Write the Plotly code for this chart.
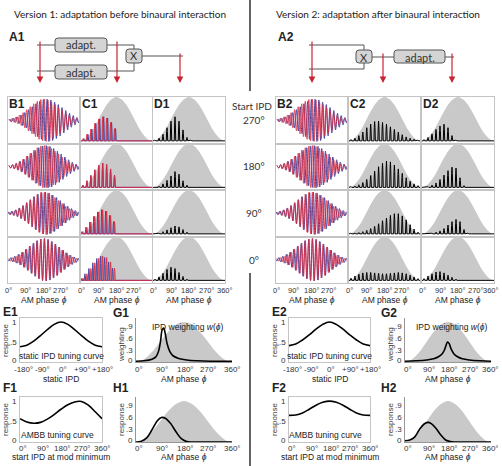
import plotly.graph_objects as go

# ---------------- data ----------------
start_ipd = [270, 180, 90, 0]
row_labels = ["270°", "180°", "90°", "0°"]

phase_grid = [0, 15, 30, 45, 60, 75, 90, 105, 120, 135, 150, 165, 180,
              195, 210, 225, 240, 255, 270, 285, 300, 315, 330, 345, 360]
gray_env = [0.0, 0.02, 0.07, 0.15, 0.25, 0.37, 0.5, 0.63, 0.75, 0.85, 0.93, 0.98, 1.0,
            0.98, 0.93, 0.85, 0.75, 0.63, 0.5, 0.37, 0.25, 0.15, 0.07, 0.02, 0.0]

# stimulus (B panels): carrier cycle centres and peak amplitude of each cycle
b_cycles = [9, 27, 45, 63, 81, 99, 117, 135, 153, 171, 189, 207, 225, 243, 261, 279, 297, 315, 333, 351]
b_amp = [0.06, 0.1, 0.16, 0.25, 0.36, 0.5, 0.64, 0.78, 0.9, 0.98, 1.0, 0.96, 0.86, 0.74, 0.6, 0.46,
         0.33, 0.22, 0.13, 0.07]

# C / D panels: rectified carrier peaks per cycle
cd_cycles = [10, 30, 50, 70, 90, 110, 130, 150, 170, 190, 210, 230, 250, 270, 290, 310, 330, 350]
c1_amp = [0.05, 0.15, 0.27, 0.4, 0.5, 0.55, 0.52, 0.42, 0.28, 0, 0, 0, 0, 0, 0, 0, 0, 0]
d1_rows = [
    [0.02, 0.06, 0.15, 0.3, 0.45, 0.55, 0.45, 0.25, 0.08, 0.02, 0, 0, 0, 0, 0, 0, 0, 0],
    [0.01, 0.03, 0.08, 0.16, 0.26, 0.36, 0.3, 0.15, 0.05, 0.01, 0, 0, 0, 0, 0, 0, 0, 0],
    [0.01, 0.02, 0.05, 0.09, 0.14, 0.18, 0.16, 0.1, 0.04, 0.01, 0, 0, 0, 0, 0, 0, 0, 0],
    [0.03, 0.08, 0.16, 0.25, 0.3, 0.27, 0.18, 0.09, 0.03, 0.01, 0, 0, 0, 0, 0, 0, 0, 0],
]
c2_rows = [
    [0.03, 0.06, 0.12, 0.2, 0.3, 0.38, 0.44, 0.45, 0.42, 0.38, 0.32, 0.26, 0.2, 0.14, 0.09, 0.06, 0.04, 0.02],
    [0.02, 0.03, 0.06, 0.11, 0.18, 0.27, 0.37, 0.47, 0.55, 0.6, 0.58, 0.51, 0.42, 0.32, 0.22, 0.14, 0.08, 0.04],
    [0.02, 0.02, 0.03, 0.05, 0.08, 0.12, 0.17, 0.23, 0.3, 0.36, 0.42, 0.46, 0.46, 0.41, 0.32, 0.21, 0.11, 0.04],
    [0.05, 0.1, 0.14, 0.17, 0.18, 0.18, 0.17, 0.16, 0.15, 0.15, 0.16, 0.17, 0.18, 0.17, 0.15, 0.12, 0.08, 0.04],
]
d2_rows = [
    [0.03, 0.08, 0.16, 0.26, 0.34, 0.38, 0.3, 0.12, 0.02, 0, 0, 0, 0, 0, 0, 0, 0, 0],
    [0.01, 0.02, 0.05, 0.1, 0.18, 0.28, 0.38, 0.46, 0.44, 0.22, 0.04, 0, 0, 0, 0, 0, 0, 0],
    [0.01, 0.01, 0.02, 0.04, 0.07, 0.12, 0.2, 0.28, 0.33, 0.28, 0.1, 0.02, 0, 0, 0, 0, 0, 0],
    [0.04, 0.1, 0.15, 0.19, 0.2, 0.17, 0.12, 0.07, 0.03, 0.01, 0, 0, 0, 0, 0, 0, 0, 0],
]

# E: static IPD tuning curve
e_ipd = [-180, -150, -120, -90, -60, -30, 0, 30, 60, 90, 120, 150, 180]
e_ticks = [-180, -90, 0, 90, 180]
e_ticktext = ["-180°", "-90°", "0°", "+90°", "+180°"]
e1_resp = [0.38, 0.42, 0.52, 0.66, 0.81, 0.94, 1.0, 0.94, 0.81, 0.66, 0.52, 0.42, 0.38]
e2_resp = [0.41, 0.45, 0.55, 0.68, 0.82, 0.94, 1.0, 0.94, 0.82, 0.68, 0.55, 0.45, 0.41]
# F: AMBB tuning curve
f_ipd = [0, 30, 60, 90, 120, 150, 180, 210, 240, 270, 300, 330, 360]
f1_resp = [0.57, 0.49, 0.46, 0.48, 0.56, 0.67, 0.8, 0.91, 0.98, 0.99, 0.9, 0.74, 0.57]
f2_resp = [0.65, 0.66, 0.71, 0.8, 0.9, 0.97, 1.0, 0.97, 0.9, 0.8, 0.71, 0.66, 0.65]
resp_ticks = [0, 0.5, 1]
resp_ticktext = ["0", ".5", "1"]
# G: IPD weighting
g1_phase = [0, 30, 60, 75, 85, 92, 98, 104, 110, 117, 127, 140, 160, 190, 230, 280, 360]
g1_w = [0.02, 0.03, 0.07, 0.13, 0.28, 0.52, 0.8, 0.85, 0.7, 0.45, 0.26, 0.15, 0.09, 0.05, 0.03, 0.02, 0.02]
g2_phase = [0, 45, 90, 120, 140, 155, 165, 172, 178, 185, 192, 205, 220, 240, 270, 315, 360]
g2_w = [0.02, 0.03, 0.05, 0.08, 0.13, 0.2, 0.3, 0.42, 0.5, 0.46, 0.34, 0.2, 0.13, 0.08, 0.05, 0.03, 0.02]
# H: response over AM phase
h_phase = [0, 20, 40, 60, 80, 95, 110, 130, 150, 170, 190, 210, 360]
h1_resp = [0.0, 0.02, 0.1, 0.3, 0.52, 0.6, 0.58, 0.45, 0.25, 0.08, 0.01, 0.0, 0.0]
h2_resp = [0.03, 0.05, 0.12, 0.3, 0.44, 0.48, 0.45, 0.33, 0.17, 0.05, 0.01, 0.0, 0.0]
gh_ticks = [0, 0.3, 0.6, 0.9]
gh_ticktext = ["0", ".3", ".6", ".9"]

phase_ticks = [0, 90, 180, 270, 360]
phase_ticktext = ["0°", "90°", "180°", "270°", "360°"]

# ---------------- styling / helpers ----------------
W, H = 502, 466
RED = "rgb(222,40,62)"
BLUE = "rgb(72,70,160)"
GRAY = "rgb(201,201,201)"
BORDER = "rgb(196,196,196)"
ARIAL = "Liberation Sans"
CAL = "Lato"

fig = go.Figure()
ann, shp = [], []
axn = [0]


def X(px):
    return px / W


def Y(py):
    return 1 - py / H


def new_axes(x0, x1, y0, y1, xr, yr, xa=None, ya=None):
    axn[0] += 1
    n = axn[0]
    sx = "" if n == 1 else str(n)
    base = dict(showgrid=False, zeroline=False, showticklabels=False, ticks="", fixedrange=True, tickangle=0)
    xd = dict(base, domain=[X(x0), X(x1)], range=xr, anchor="y" + sx)
    yd = dict(base, domain=[Y(y1), Y(y0)], range=yr, anchor="x" + sx)
    if xa:
        xd.update(xa)
    if ya:
        yd.update(ya)
    fig.update_layout(**{"xaxis" + sx: xd, "yaxis" + sx: yd})
    return "x" + sx, "y" + sx


def txt(x, y, s, size=9, bold=False, family=ARIAL, color="#222", xanchor="center", angle=0):
    if bold:
        s = "<b>" + s + "</b>"
    ann.append(dict(x=X(x), y=Y(y), xref="paper", yref="paper", text=s, showarrow=False,
                    font=dict(size=size, family=family, color=color), xanchor=xanchor,
                    yanchor="middle", textangle=angle, borderpad=0))


def xticks_ann(x0, x1, xr, tv, tt, ypx, size=8):
    for t, s in zip(tv, tt):
        px = x0 + (t - xr[0]) / (xr[1] - xr[0]) * (x1 - x0)
        half = 0.55 * size * len(s) / 2
        if px + half > W - 3:
            txt(W - 2, ypx, s, size=size, color="#333", xanchor="right")
        else:
            txt(px, ypx, s, size=size, color="#333")


def yticks_ann(xpx, y0, y1, yr, tv, tt, size=8):
    for t, s in zip(tv, tt):
        py = y1 - (t - yr[0]) / (yr[1] - yr[0]) * (y1 - y0)
        if t == yr[0]:
            py -= 2
        txt(xpx, py, s, size=size, color="#333", xanchor="right")


def line(x0, y0, x1, y1, color="#555", width=1):
    shp.append(dict(type="line", xref="paper", yref="paper", x0=X(x0), y0=Y(y0), x1=X(x1), y1=Y(y1),
                    line=dict(color=color, width=width)))


def rbox(x0, y0, x1, y1, r=3):
    rx, ry = r / W, r / H
    a, b, c, d = X(x0), Y(y0), X(x1), Y(y1)
    p = (f"M{a+rx},{b} L{c-rx},{b} Q{c},{b} {c},{b-ry} L{c},{d+ry} Q{c},{d} {c-rx},{d} "
         f"L{a+rx},{d} Q{a},{d} {a},{d+ry} L{a},{b-ry} Q{a},{b} {a+rx},{b} Z")
    shp.append(dict(type="path", xref="paper", yref="paper", path=p, fillcolor="rgb(212,212,212)",
                    line=dict(color="#555", width=1)))


def red_arrow(x, y0, y1):
    ann.append(dict(x=X(x), y=Y(y1), xref="paper", yref="paper", ax=0, ay=-(y1 - y0), text="",
                    showarrow=True, arrowhead=2, arrowsize=1.1, arrowwidth=1.2, arrowcolor="rgb(200,35,50)"))


def spikes(centers, heights, shift=0.0, half=3.6):
    xs, ys = [0], [0]
    for c, h in zip(centers, heights):
        c = c + shift
        xs += [c - half, c - half / 2, c, c + half / 2, c + half]
        ys += [0, 0.7 * h, h, 0.7 * h, 0]
    xs.append(360)
    ys.append(0)
    return xs, ys


def zigzag(centers, amps, shifts, period):
    xs, ys = [], []
    for c, a, s in zip(centers, amps, shifts):
        xs += [c - period / 4 + s, c + period / 4 + s]
        ys += [a, -a]
    return xs, ys


# ---------------- B / C / D panels ----------------
ROW_TOP, ROW_H = 97, 46.5
cols = {1: [(8, 79), (81, 152), (153, 225)], 2: [(276, 347), (349, 420), (422, 494)]}


def panel_axes(x0, x1, y0, y1, yr):
    frame = dict(showline=True, mirror=True, linecolor=BORDER, linewidth=1)
    return new_axes(x0, x1, y0, y1, [0, 360], yr, xa=dict(frame), ya=dict(frame))


for v in (1, 2):
    (bx0, bx1), (cx0, cx1), (dx0, dx1) = cols[v]
    for r in range(4):
        y0 = ROW_TOP + r * ROW_H
        y1 = y0 + ROW_H
        ipd = start_ipd[r]
        # B: stimulus
        xa_, ya_ = panel_axes(bx0, bx1, y0, y1, [-1.1, 1.1])
        per = 18
        sh_red = [0] * len(b_cycles)
        sh_blue = [(ipd + c) / 360 * per - per / 2 for c in b_cycles]
        bx, by = zigzag(b_cycles, b_amp, sh_blue, per)
        fig.add_trace(go.Scatter(x=bx, y=by, mode="lines", line=dict(color=BLUE, width=1.0, shape="spline"),
                                 xaxis=xa_, yaxis=ya_, hoverinfo="skip", showlegend=False))
        rx, ry = zigzag(b_cycles, b_amp, sh_red, per)
        fig.add_trace(go.Scatter(x=rx, y=ry, mode="lines", line=dict(color=RED, width=1.0, shape="spline"),
                                 opacity=0.85, xaxis=xa_, yaxis=ya_, hoverinfo="skip", showlegend=False))
        # C
        xa_, ya_ = panel_axes(cx0, cx1, y0, y1, [-0.06, 1.0])
        fig.add_trace(go.Scatter(x=phase_grid, y=gray_env, mode="lines", fill="tozeroy", fillcolor=GRAY,
                                 line=dict(width=0, color=GRAY, shape="spline"), xaxis=xa_, yaxis=ya_,
                                 hoverinfo="skip", showlegend=False))
        if v == 1:
            sx, sy = spikes(cd_cycles, c1_amp, shift=(ipd / 360) * 20 - 10)
            fig.add_trace(go.Scatter(x=sx, y=sy, mode="lines", line=dict(color=BLUE, width=1.0),
                                     xaxis=xa_, yaxis=ya_, hoverinfo="skip", showlegend=False))
            sx, sy = spikes(cd_cycles, c1_amp)
            fig.add_trace(go.Scatter(x=sx, y=sy, mode="lines", line=dict(color=RED, width=1.0),
                                     opacity=0.9, xaxis=xa_, yaxis=ya_, hoverinfo="skip", showlegend=False))
        else:
            sx, sy = spikes(cd_cycles, c2_rows[r])
            fig.add_trace(go.Scatter(x=sx, y=sy, mode="lines", line=dict(color="black", width=1.0),
                                     xaxis=xa_, yaxis=ya_, hoverinfo="skip", showlegend=False))
        # D
        xa_, ya_ = panel_axes(dx0, dx1, y0, y1, [-0.06, 1.0])
        fig.add_trace(go.Scatter(x=phase_grid, y=gray_env, mode="lines", fill="tozeroy", fillcolor=GRAY,
                                 line=dict(width=0, color=GRAY, shape="spline"), xaxis=xa_, yaxis=ya_,
                                 hoverinfo="skip", showlegend=False))
        dvals = d1_rows[r] if v == 1 else d2_rows[r]
        sx, sy = spikes(cd_cycles, dvals)
        fig.add_trace(go.Scatter(x=sx, y=sy, mode="lines", line=dict(color="black", width=1.0),
                                 xaxis=xa_, yaxis=ya_, hoverinfo="skip", showlegend=False))
    # panel letters
    txt(bx0 + 9, 104, f"B{v}", size=12, bold=True)
    txt(cx0 + 9, 104, f"C{v}", size=12, bold=True)
    txt(dx0 + 9, 104, f"D{v}", size=12, bold=True)
    for i, (a, b) in enumerate(cols[v]):
        n = 5 if i == 2 else 4
        xticks_ann(a, b, [0, 360], phase_ticks[:n], phase_ticktext[:n], 290, size=7.5)
        txt((a + b) / 2, 300, "AM phase <i>ϕ</i>", size=8.5)

# ---------------- E / F / G / H ----------------


def small_axes(x0, x1, y0, y1, xr, yr, box):
    fr = dict(showline=True, linecolor=BORDER if box else "rgb(150,150,150)", linewidth=1, mirror=box)
    return new_axes(x0, x1, y0, y1, xr, yr, xa=dict(fr), ya=dict(fr))


specs = {
    1: dict(ex=(20, 102), gx=(136, 232), e=e1_resp, f=f1_resp, g=(g1_phase, g1_w), h=h1_resp),
    2: dict(ex=(289, 370), gx=(405, 491), e=e2_resp, f=f2_resp, g=(g2_phase, g2_w), h=h2_resp),
}
YR = [0, 1.1]
for v in (1, 2):
    s = specs[v]
    ex0, ex1 = s["ex"]
    gx0, gx1 = s["gx"]
    # E
    xa_, ya_ = small_axes(ex0, ex1, 318, 362, [-180, 180], YR, True)
    fig.add_trace(go.Scatter(x=e_ipd, y=s["e"], mode="lines", line=dict(color="black", width=1.6, shape="spline"),
                             xaxis=xa_, yaxis=ya_, hoverinfo="skip", showlegend=False))
    xticks_ann(ex0 + 3, ex1, [-180, 180], e_ticks, e_ticktext, 369)
    yticks_ann(ex0 - 2, 318, 362, YR, resp_ticks, resp_ticktext)
    # F
    xa_, ya_ = small_axes(ex0, ex1, 397, 442, [0, 360], YR, True)
    fig.add_trace(go.Scatter(x=f_ipd, y=s["f"], mode="lines", line=dict(color="black", width=1.6, shape="spline"),
                             xaxis=xa_, yaxis=ya_, hoverinfo="skip", showlegend=False))
    xticks_ann(ex0 + 3, ex1, [0, 360], phase_ticks, phase_ticktext, 448)
    yticks_ann(ex0 - 2, 397, 442, YR, resp_ticks, resp_ticktext)
    # G
    xa_, ya_ = small_axes(gx0, gx1, 318, 362, [0, 360], YR, False)
    fig.add_trace(go.Scatter(x=phase_grid, y=gray_env, mode="lines", fill="tozeroy", fillcolor=GRAY,
                             line=dict(width=0, color=GRAY, shape="spline"), xaxis=xa_, yaxis=ya_,
                             hoverinfo="skip", showlegend=False))
    fig.add_trace(go.Scatter(x=s["g"][0], y=s["g"][1], mode="lines",
                             line=dict(color="black", width=1.6, shape="spline"),
                             xaxis=xa_, yaxis=ya_, hoverinfo="skip", showlegend=False))
    xticks_ann(gx0 + 3, gx1, [0, 360], phase_ticks, phase_ticktext, 369)
    yticks_ann(gx0 - 2, 318, 362, YR, gh_ticks, gh_ticktext)
    # H
    xa_, ya_ = small_axes(gx0, gx1, 397, 442, [0, 360], YR, False)
    fig.add_trace(go.Scatter(x=phase_grid, y=gray_env, mode="lines", fill="tozeroy", fillcolor=GRAY,
                             line=dict(width=0, color=GRAY, shape="spline"), xaxis=xa_, yaxis=ya_,
                             hoverinfo="skip", showlegend=False))
    fig.add_trace(go.Scatter(x=h_phase, y=s["h"], mode="lines", line=dict(color="black", width=1.6, shape="spline"),
                             xaxis=xa_, yaxis=ya_, hoverinfo="skip", showlegend=False))
    xticks_ann(gx0 + 3, gx1, [0, 360], phase_ticks, phase_ticktext, 448)
    yticks_ann(gx0 - 2, 397, 442, YR, gh_ticks, gh_ticktext)

    ec = (ex0 + ex1) / 2
    gc = (gx0 + gx1) / 2
    lx = 10 if v == 1 else 279
    glx = 121 if v == 1 else 389
    txt(lx, 312, f"E{v}", size=12, bold=True)
    txt(lx, 388, f"F{v}", size=12, bold=True)
    txt(glx, 313, f"G{v}", size=12, bold=True)
    txt(glx, 388, f"H{v}", size=12, bold=True)
    txt(ex0 - 15, 341, "response", size=8, angle=-90, color="#444")
    txt(ex0 - 15, 420, "response", size=8, angle=-90, color="#444")
    txt(gx0 - 15, 345, "weighting", size=8, angle=-90, color="#444")
    txt(gx0 - 15, 420, "response", size=8, angle=-90, color="#444")
    txt(ec, 356, "static IPD tuning curve", size=8.5)
    txt(ec - 4, 435, "AMBB tuning curve", size=8.5)
    txt(gc + 4, 327, "IPD weighting <i>w</i>(<i>ϕ</i>)", size=8.5)
    txt(ec, 379, "static IPD", size=8.5)
    txt(ec, 457, "start IPD at mod minimum", size=8.5)
    txt(gc, 379, "AM phase <i>ϕ</i>", size=8.5)
    txt(gc, 457, "AM phase <i>ϕ</i>", size=8.5)

# ---------------- titles, start IPD labels, divider ----------------
txt(120, 14, "Version 1: adaptation before binaural interaction", size=10, family=CAL)
txt(378, 14, "Version 2: adaptation after binaural interaction", size=10, family=CAL)
txt(252, 106, "Start IPD", size=10, family=CAL, color="#333")
for r, lab in enumerate(row_labels):
    txt(254, ROW_TOP + r * ROW_H + 23, lab, size=10, family=CAL, color="#333")
line(250, 0, 250, 91, color="#111", width=1.3)
line(250, 273, 250, 466, color="#111", width=1.3)

# ---------------- A1 diagram ----------------
txt(17, 37, "A1", size=12, bold=True)
line(37, 45, 55, 45)
line(107, 45, 134, 45)
line(134, 45, 134, 49)
line(37, 71, 55, 71)
line(107, 71, 134, 71)
line(134, 71, 134, 63)
line(142, 56, 183, 56)
rbox(55, 38, 107, 52)
rbox(55, 65, 107, 79)
rbox(126, 49, 142, 63)
txt(81, 45, "adapt.", size=11, family=CAL, color="#333")
txt(81, 72, "adapt.", size=11, family=CAL, color="#333")
txt(134, 56, "X", size=11, family=CAL, color="#333")
red_arrow(40, 40, 83)
red_arrow(117, 40, 83)
red_arrow(180, 52, 83)

# ---------------- A2 diagram ----------------
txt(286, 37, "A2", size=12, bold=True)
line(309, 45, 364, 45)
line(364, 45, 364, 50)
line(309, 69, 364, 69)
line(364, 69, 364, 63)
line(372, 57, 394, 57)
line(445, 57, 454, 57)
rbox(356, 50, 372, 63)
rbox(394, 50, 445, 63)
txt(364, 57, "X", size=11, family=CAL, color="#333")
txt(419.5, 57, "adapt.", size=11, family=CAL, color="#333")
red_arrow(312, 40, 83)
red_arrow(383, 52, 83)
red_arrow(452, 52, 83)

fig.update_layout(width=W, height=H, margin=dict(l=0, r=0, t=0, b=0), plot_bgcolor="white",
                  paper_bgcolor="white", showlegend=False, annotations=ann, shapes=shp,
                  font=dict(family=ARIAL))
fig.write_html("out.html", config={"displayModeBar": False},
               post_script="document.body.style.margin='0';document.body.style.overflow='hidden';")
